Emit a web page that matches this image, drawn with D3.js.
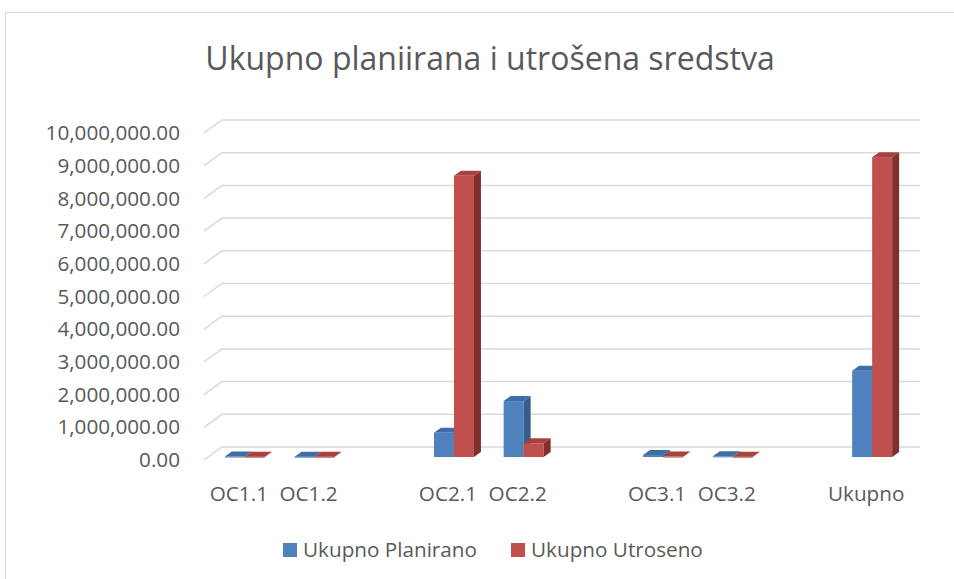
<!DOCTYPE html>
<html>
<head>
<meta charset="utf-8">
<title>Ukupno planiirana i utrošena sredstva</title>
<style>
  body, html { margin: 0; padding: 0; background: #fff; }
  .axis text { font: 20.7px "Open Sans", sans-serif; fill: #595959; }
  .title { font: 32px "Open Sans", sans-serif; fill: #595959; text-anchor: middle; }
  .legend text { font: 20.7px "Open Sans", sans-serif; fill: #595959; }
</style>
<script src="https://d3js.org/d3.v7.min.js"></script>
</head>
<body>
<svg width="954" height="579"></svg>
<script>
// categories (blank slots are the gaps between groups)
const categories = ["OC1.1", "OC1.2", "", "OC2.1", "OC2.2", "", "OC3.1", "OC3.2", "", "Ukupno"];
const planirano = [15000, 10000, null, 740000, 1710000, null, 60000, 20000, null, 2640000];
const utroseno  = [10000, 10000, null, 8600000, 420000, null, 15000, 10000, null, 9170000];
const yTicks = [0, 1e6, 2e6, 3e6, 4e6, 5e6, 6e6, 7e6, 8e6, 9e6, 10e6];
const seriesNames = ["Ukupno Planirano", "Ukupno Utroseno"];

const colors = {
  blue: { front: "#4f81bd", top: "#3f6ea6", side: "#365d8c" },
  red:  { front: "#c0504d", top: "#a9423f", side: "#7f2f2d" }
};

const svg = d3.select("svg");

// chart border
svg.append("rect")
  .attr("x", 5.5).attr("y", 12.5)
  .attr("width", 1000).attr("height", 1000)
  .attr("fill", "none").attr("stroke", "#d9d9d9");

svg.append("text")
  .attr("class", "title")
  .attr("x", 490).attr("y", 70)
  .text("Ukupno planiirana i utrošena sredstva");

const y = d3.scaleLinear().domain([0, 10e6]).range([460, 133]);
const x = d3.scaleBand().domain(d3.range(categories.length)).range([210, 907]);

// 3d offsets
const wall = { dx: 18, dy: -13 };
const bar = { dx: 7, dy: -5, front: -3, w: 20 };

// gridlines with perspective foot
const grid = svg.append("g");
yTicks.forEach(t => {
  const yy = y(t);
  grid.append("path")
    .attr("d", `M204,${yy}L${204 + wall.dx},${yy + wall.dy}L920,${yy + wall.dy}`)
    .attr("fill", "none")
    .attr("stroke", "#d9d9d9")
    .attr("stroke-width", 1.5);
});

// y axis labels
svg.append("g")
  .attr("class", "axis")
  .attr("transform", "translate(184,0)")
  .call(d3.axisLeft(y).tickValues(yTicks).tickSize(0).tickPadding(4).tickFormat(d3.format(",.2f")))
  .call(g => g.select(".domain").remove());

// x axis labels
svg.append("g")
  .attr("class", "axis")
  .attr("transform", "translate(-6,482)")
  .call(d3.axisBottom(x).tickSize(0).tickPadding(4).tickFormat(i => categories[i]))
  .call(g => g.select(".domain").remove());

function drawBar(g, x0, v, c) {
  const yb = y(0) + bar.front;
  const yt = y(v) + bar.front;
  const x1 = x0 + bar.w;
  g.append("rect")
    .attr("x", x0).attr("y", yt)
    .attr("width", bar.w).attr("height", Math.max(yb - yt, 1))
    .attr("fill", c.front);
  g.append("path")
    .attr("d", `M${x0},${yt}L${x0 + bar.dx},${yt + bar.dy}L${x1 + bar.dx},${yt + bar.dy}L${x1},${yt}Z`)
    .attr("fill", c.top);
  g.append("path")
    .attr("d", `M${x1},${yt}L${x1 + bar.dx},${yt + bar.dy}L${x1 + bar.dx},${yb + bar.dy}L${x1},${yb}Z`)
    .attr("fill", c.side);
}

const bars = svg.append("g");
categories.forEach((cat, i) => {
  if (planirano[i] == null) return;
  const cx = x(i) + x.bandwidth() / 2;
  drawBar(bars, cx - bar.w, planirano[i], colors.blue);
  drawBar(bars, cx, utroseno[i], colors.red);
});

// legend
const legend = svg.append("g").attr("class", "legend");
const legendX = [283, 511];
seriesNames.forEach((name, i) => {
  legend.append("rect")
    .attr("x", legendX[i]).attr("y", 543)
    .attr("width", 14).attr("height", 14)
    .attr("fill", i === 0 ? colors.blue.front : colors.red.front);
  legend.append("text")
    .attr("x", legendX[i] + 20).attr("y", 557)
    .text(name);
});
</script>
</body>
</html>
